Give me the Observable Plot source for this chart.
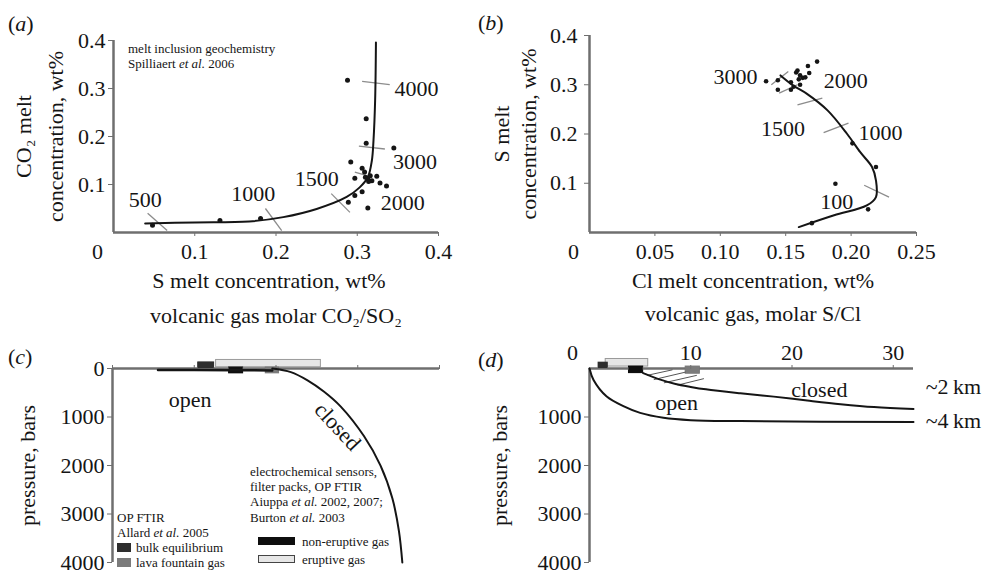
<!DOCTYPE html>
<html><head><meta charset="utf-8">
<script src="https://cdn.jsdelivr.net/npm/d3@7"></script>
<script src="https://cdn.jsdelivr.net/npm/@observablehq/plot@0.6"></script>
<style>
body{margin:0;background:#fff;}
#wrap{position:relative;width:986px;height:574px;overflow:hidden;background:#fff;font-family:"Liberation Serif","Times New Roman",serif;color:#151515;}
#wrap svg text{font-family:"Liberation Serif","Times New Roman",serif;}
.note{position:absolute;font-size:13px;line-height:13px;white-space:nowrap;}
.plab{position:absolute;font-size:22px;line-height:22px;white-space:nowrap;}
.sw{position:absolute;box-sizing:border-box;}
</style></head><body><div id="wrap"></div>
<script>
// ---------- DATA ----------
// (a) melt inclusions: S (wt%) vs CO2 (wt%)
const aS   = [0.048,0.131,0.181,0.288,0.311,0.311,0.345,0.292,0.306,0.309,0.297,0.313,0.318,0.310,0.316,0.314,0.324,0.328,0.336,0.306,0.297,0.289,0.313];
const aCO2 = [0.015,0.025,0.029,0.317,0.237,0.186,0.176,0.147,0.134,0.126,0.113,0.112,0.108,0.115,0.118,0.106,0.117,0.103,0.097,0.085,0.077,0.063,0.051];
// (a) degassing model curve
const aModelS   = [0.039,0.100,0.167,0.209,0.250,0.287,0.303,0.313,0.318,0.320,0.322,0.323];
const aModelCO2 = [0.019,0.021,0.023,0.032,0.049,0.074,0.094,0.115,0.150,0.192,0.275,0.396];
// (a) pressure markers on the curve (bars) and their labels
const aPress     = ["500","1000","1500","2000","3000","4000"];
const aPressS    = [0.039,0.172,0.250,0.356,0.371,0.373];
const aPressCO2  = [0.067,0.081,0.1125,0.0625,0.146,0.300];
const aTickS1    = [0.042,0.187,0.268,0.297,0.302,0.306];
const aTickCO2_1 = [0.040,0.050,0.081,0.126,0.180,0.315];
const aTickS2    = [0.066,0.207,0.291,0.311,0.334,0.340];
const aTickCO2_2 = [0.004,0.004,0.042,0.119,0.174,0.308];
const aXTicks = [0,0.1,0.2,0.3,0.4];
const aYTicks = [0.1,0.2,0.3,0.4];

// (b) melt inclusions: Cl (wt%) vs S (wt%)
const bCl = [0.135,0.144,0.144,0.154,0.154,0.156,0.159,0.161,0.163,0.160,0.165,0.167,0.168,0.174,0.161,0.158,0.201,0.219,0.188,0.213,0.170];
const bS  = [0.307,0.309,0.290,0.305,0.290,0.296,0.329,0.319,0.314,0.311,0.315,0.338,0.324,0.347,0.300,0.325,0.181,0.133,0.099,0.047,0.019];
const bModelCl = [0.160,0.187,0.212,0.219,0.219,0.216,0.207,0.197,0.182,0.166,0.156,0.146];
const bModelS  = [0.011,0.035,0.055,0.072,0.106,0.133,0.163,0.200,0.248,0.282,0.298,0.319];
const bPress   = ["3000","2000","1500","1000","100"];
const bPressCl = [0.1116,0.196,0.148,0.2225,0.189];
const bPressS  = [0.315,0.307,0.211,0.203,0.063];
const bTickCl1 = [0.139,0.145,0.159,0.179,0.210];
const bTickS1  = [0.300,0.283,0.259,0.203,0.096];
const bTickCl2 = [0.152,0.159,0.178,0.198,0.229];
const bTickS2  = [0.327,0.300,0.273,0.222,0.072];
const bXTicks = [0,0.05,0.10,0.15,0.20,0.25];
const bYTicks = [0.1,0.2,0.3,0.4];

// (c) gas CO2/SO2 vs pressure (bars)
const cOpenRatio   = [0.36,1,3,9];
const cOpenP       = [30,30,35,40];
const cClosedRatio = [9,15.2,24.3,38.8,62,119,190,265,319,351];
const cClosedP     = [0,74,243,479,785,1393,2002,2677,3353,4000];
const cXTicks = [0.1,1,10,100,1000];
const cXLabels = ["10\u207B\u00B9","1","10","10\u00B2","10\u00B3"];
const pTicks = [0,1000,2000,3000,4000];
// measured gas ranges (CO2/SO2)
const cBarName = ["eruptive gas","bulk equilibrium","non-eruptive gas","lava fountain gas"];
const cBarMin  = [1.85,1.12,2.67,7.5];
const cBarMax  = [35.4,1.75,3.96,10.9];

// (d) gas S/Cl vs pressure (bars)
const dOpenRatio   = [0,0.4,1.7,3.4,5.0,7.3,10,14.9,32];
const dOpenP       = [0,237,578,780,915,1016,1065,1085,1105];
const dClosedRatio = [5.3,7.0,8.5,10,11.5,14.9,18.2,21.5,24.8,28.1,32];
const dClosedP     = [95,230,320,380,430,511,580,660,735,795,835];
const dXTicks = [0,10,20,30];
const dBarName = ["eruptive gas","bulk equilibrium","non-eruptive gas","lava fountain gas"];
const dBarMin  = [1.6,0.9,3.9,9.5];
const dBarMax  = [5.8,1.8,5.3,10.9];
// hatched band between measured ratios and closed curve
const dHatchX1 = [5.7,6.35,7.35,8.7];
const dHatchP1 = [141,229,296,343];
const dHatchX2 = [8.2,9.5,10.6,11.3];
const dHatchP2 = [27,74,141,209];

// ---------- STYLE ----------
const serif = "Liberation Serif, Times New Roman, serif";
const INK = "#151515", AXC = "#6f6f6f", MARK = "#8c8c8c";
const barFill   = {"eruptive gas":"#e6e6e6","bulk equilibrium":"#2e2e2e","non-eruptive gas":"#0e0e0e","lava fountain gas":"#7b7b7b"};
const barStroke = {"eruptive gas":"#9a9a9a","bulk equilibrium":"#2e2e2e","non-eruptive gas":"#0e0e0e","lava fountain gas":"#7b7b7b"};
// vertical placement of the bars relative to the 0-bar axis (in bars)
const cBand = {"eruptive gas":[-176,-26],"bulk equilibrium":[-125,0],"non-eruptive gas":[-20,100],"lava fountain gas":[-20,100]};
const dBand = {"eruptive gas":[-196,-40],"bulk equilibrium":[-120,0],"non-eruptive gas":[-40,95],"lava fountain gas":[-40,107]};

const zip2 = (xs, ys) => xs.map((x,i)=>({x, y: ys[i]}));
const zipSeg = (x1,y1,x2,y2) => x1.map((v,i)=>({x1:v,y1:y1[i],x2:x2[i],y2:y2[i]}));
const zipLab = (t,x,y) => t.map((s,i)=>({t:s,x:x[i],y:y[i]}));
const bars = (names,mins,maxs,band) => names.map((n,i)=>({n, x1:mins[i], x2:maxs[i], y1:band[n][0], y2:band[n][1]}));

const wrap = document.getElementById("wrap");
function place(el, left, top){ el.style.position="absolute"; el.style.left=left+"px"; el.style.top=top+"px"; wrap.appendChild(el); }
const baseStyle = {fontFamily: serif, fontSize:"22px", background:"transparent", overflow:"visible", color: INK};
const T = {fontFamily: serif, fontSize:22, fill: INK};
const AX = {fontFamily: serif, fontSize:22, label:null};
const f1 = d => d===0 ? "0" : d.toFixed(1);
const f2 = d => d===0 ? "0" : d.toFixed(2);
const yTitle = (s, dx) => Plot.text([s],{...T, frameAnchor:"left", dx, rotate:-90, textAnchor:"middle", lineAnchor:"middle"});
const xTitle = (s, dy, dx=0) => Plot.text([s],{...T, frameAnchor:"bottom", dy, dx, textAnchor:"middle", lineAnchor:"middle"});

// ---------- PANEL A ----------
const A = Plot.plot({
  width:490, height:330, marginLeft:113, marginRight:52, marginTop:40, marginBottom:98,
  x:{domain:[0,0.4]}, y:{domain:[0,0.4]}, style: baseStyle,
  marks:[
    Plot.ruleY([0],{stroke:AXC, strokeWidth:2.5}),
    Plot.ruleX([0],{stroke:AXC, strokeWidth:2.5}),
    Plot.axisX(aXTicks.slice(1),{...AX, anchor:"bottom", tickSize:4, tickPadding:7, tickFormat:f1, stroke:AXC}),
    Plot.axisX([0],{...AX, anchor:"bottom", tickSize:0, tickPadding:11, tickFormat:f1, dx:-16}),
    Plot.axisY(aYTicks,{...AX, anchor:"left", tickSize:5, tickPadding:3, tickFormat:f1, stroke:AXC}),
    Plot.link(zipSeg(aTickS1,aTickCO2_1,aTickS2,aTickCO2_2),{x1:"x1",y1:"y1",x2:"x2",y2:"y2", stroke:MARK, strokeWidth:1.3}),
    Plot.line(zip2(aModelS,aModelCO2),{x:"x", y:"y", curve:"catmull-rom", stroke:INK, strokeWidth:2}),
    Plot.dot(zip2(aS,aCO2),{x:"x", y:"y", r:2.5, fill:INK}),
    Plot.text(zipLab(aPress,aPressS,aPressCO2),{...T, x:"x", y:"y", text:"t"}),
    xTitle("S melt concentration, wt%", 48, -7),
    xTitle("volcanic gas molar CO\u2082/SO\u2082", 83),
    yTitle("CO\u2082 melt", -90),
    yTitle("concentration, wt%", -58)
  ]
});
place(A, 0, 0);

// ---------- PANEL B ----------
const B = Plot.plot({
  width:496, height:330, marginLeft:99, marginRight:70, marginTop:35, marginBottom:98,
  x:{domain:[0,0.25]}, y:{domain:[0,0.4]}, style: baseStyle,
  marks:[
    Plot.ruleY([0],{stroke:AXC, strokeWidth:2.5}),
    Plot.ruleX([0],{stroke:AXC, strokeWidth:2.5}),
    Plot.axisX(bXTicks.slice(1),{...AX, anchor:"bottom", tickSize:4, tickPadding:7, tickFormat:f2, stroke:AXC}),
    Plot.axisX([0],{...AX, anchor:"bottom", tickSize:0, tickPadding:11, tickFormat:f2, dx:-16}),
    Plot.axisY(bYTicks,{...AX, anchor:"left", tickSize:5, tickPadding:7, tickFormat:f1, stroke:AXC}),
    Plot.link(zipSeg(bTickCl1,bTickS1,bTickCl2,bTickS2),{x1:"x1",y1:"y1",x2:"x2",y2:"y2", stroke:MARK, strokeWidth:1.3}),
    Plot.line(zip2(bModelCl,bModelS),{x:"x", y:"y", curve:"catmull-rom", stroke:INK, strokeWidth:2}),
    Plot.dot(zip2(bCl,bS),{x:"x", y:"y", r:2.3, fill:INK}),
    Plot.text(zipLab(bPress,bPressCl,bPressS),{...T, x:"x", y:"y", text:"t"}),
    xTitle("Cl melt concentration, wt%", 48),
    xTitle("volcanic gas, molar S/Cl", 81),
    yTitle("S melt", -88),
    yTitle("concentration, wt%", -61)
  ]
});
place(B, 490, 0);

// ---------- PANEL C ----------
const cBars = bars(cBarName,cBarMin,cBarMax,cBand);
const C = Plot.plot({
  width:490, height:244, marginLeft:112, marginRight:51, marginTop:38, marginBottom:12,
  x:{type:"log", domain:[0.1,1000]}, y:{domain:[0,4000], reverse:true}, style: baseStyle,
  marks:[
    Plot.rect(cBars,{x1:"x1",x2:"x2",y1:"y1",y2:"y2", fill:d=>barFill[d.n], stroke:d=>barStroke[d.n], strokeWidth:1}),
    Plot.ruleY([0],{stroke:AXC, strokeWidth:2.5}),
    Plot.ruleX([0.1],{stroke:AXC, strokeWidth:2.5}),
    Plot.rect(cBars.slice(1),{x1:"x1",x2:"x2",y1:"y1",y2:"y2", fill:d=>barFill[d.n]}),
    Plot.axisX(cXTicks,{...AX, anchor:"top", tickSize:4, tickPadding:5, tickFormat:(d,i)=>cXLabels[i], stroke:AXC}),
    Plot.axisY(pTicks,{...AX, anchor:"left", tickSize:5, tickPadding:3, tickFormat:d=>String(d), stroke:AXC}),
    Plot.line(zip2(cOpenRatio,cOpenP),{x:"x", y:"y", stroke:INK, strokeWidth:2.5}),
    Plot.line(zip2(cClosedRatio,cClosedP),{x:"x", y:"y", curve:"catmull-rom", stroke:INK, strokeWidth:2}),
    Plot.text([{t:"open", x:0.89, y:650}],{...T, x:"x", y:"y", text:"t"}),
    Plot.text([{t:"closed", x:56.5, y:1198}],{...T, x:"x", y:"y", text:"t", rotate:47}),
    yTitle("pressure, bars", -85)
  ]
});
place(C, 0, 330);

// ---------- PANEL D ----------
const dBars = bars(dBarName,dBarMin,dBarMax,dBand);
const D = Plot.plot({
  width:496, height:244, marginLeft:99, marginRight:73, marginTop:38, marginBottom:12,
  x:{domain:[0,32]}, y:{domain:[0,4000], reverse:true}, style: baseStyle,
  marks:[
    Plot.rect(dBars,{x1:"x1",x2:"x2",y1:"y1",y2:"y2", fill:d=>barFill[d.n], stroke:d=>barStroke[d.n], strokeWidth:1}),
    Plot.ruleY([0],{stroke:AXC, strokeWidth:2.5}),
    Plot.ruleX([0],{stroke:AXC, strokeWidth:2.5}),
    Plot.rect(dBars.slice(1),{x1:"x1",x2:"x2",y1:"y1",y2:"y2", fill:d=>barFill[d.n]}),
    Plot.axisX(dXTicks.slice(1),{...AX, anchor:"top", tickSize:4, tickPadding:5, stroke:AXC}),
    Plot.axisX([0],{...AX, anchor:"top", tickSize:0, tickPadding:9, dx:-17}),
    Plot.axisY(pTicks.slice(1),{...AX, anchor:"left", tickSize:5, tickPadding:3, tickFormat:d=>String(d), stroke:AXC}),
    Plot.link(zipSeg(dHatchX1,dHatchP1,dHatchX2,dHatchP2),{x1:"x1",y1:"y1",x2:"x2",y2:"y2", stroke:"#555", strokeWidth:1}),
    Plot.line(zip2(dOpenRatio,dOpenP),{x:"x", y:"y", curve:"catmull-rom", stroke:INK, strokeWidth:2}),
    Plot.line(zip2(dClosedRatio,dClosedP),{x:"x", y:"y", curve:"catmull-rom", stroke:INK, strokeWidth:2}),
    Plot.text([{t:"open", x:8.6, y:707},{t:"closed", x:22.7, y:444}],{...T, x:"x", y:"y", text:"t"}),
    Plot.text([{t:"~2\u2009km", x:33.2, y:384},{t:"~4\u2009km", x:33.2, y:1091}],{...T, x:"x", y:"y", text:"t", textAnchor:"start"}),
    yTitle("pressure, bars", -90)
  ]
});
place(D, 490, 330);

// ---------- PANEL LABELS, NOTES, LEGEND (HTML) ----------
function html(s){ const d=document.createElement("div"); d.innerHTML=s; return d.firstChild; }
[["(<i>a</i>)",8,13],["(<i>b</i>)",478,12],["(<i>c</i>)",8,346],["(<i>d</i>)",478,349]].forEach(([t,l,tp])=>{
  const e=html(`<div class="plab">${t}</div>`); e.style.left=l+"px"; e.style.top=tp+"px"; wrap.appendChild(e);
});
const notes = [
  ["melt inclusion geochemistry",128,42],
  ["Spilliaert <i>et al.</i> 2006",128,57],
  ["OP FTIR",117,511],
  ["Allard <i>et al.</i> 2005",117,526],
  ["electrochemical sensors,",250,465],
  ["filter packs, OP FTIR",250,480],
  ["Aiuppa <i>et al.</i> 2002, 2007;",250,495],
  ["Burton <i>et al.</i> 2003",250,511],
  ["bulk equilibrium",136,541],
  ["lava fountain gas",136,556],
  ["non-eruptive gas",302,535],
  ["eruptive gas",302,553]
];
notes.forEach(([t,l,tp])=>{ const e=html(`<div class="note">${t}</div>`); e.style.left=l+"px"; e.style.top=tp+"px"; wrap.appendChild(e); });
const swatches = [
  ["bulk equilibrium",117,543,14,9],
  ["lava fountain gas",117,558,14,9],
  ["non-eruptive gas",258,537,37,8],
  ["eruptive gas",258,555,37,8]
];
swatches.forEach(([n,l,tp,w,h])=>{
  const e=document.createElement("div"); e.className="sw";
  Object.assign(e.style,{left:l+"px",top:tp+"px",width:w+"px",height:h+"px",background:barFill[n],border:"1px solid "+(n==="eruptive gas"?"#444":barStroke[n])});
  wrap.appendChild(e);
});
</script></body></html>
